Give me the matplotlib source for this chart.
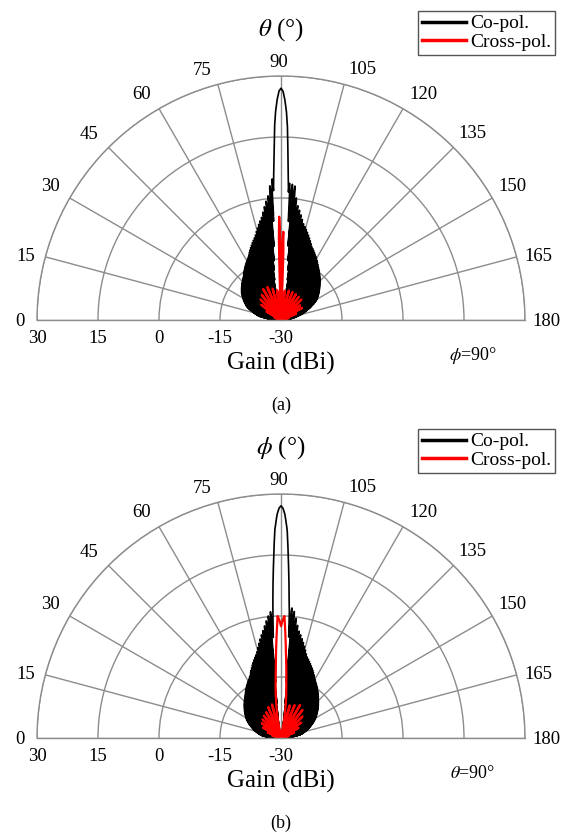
import numpy as np
import matplotlib
matplotlib.use("Agg")
import matplotlib.pyplot as plt
from matplotlib import transforms

plt.rcParams['font.family'] = ['Liberation Serif', 'DejaVu Serif']
plt.rcParams['mathtext.fontset'] = 'stix'

# angular ticks and radial (gain) ticks
theta_ticks = list(range(0, 181, 15))
gain_ticks = [-30, -15, 0, 15, 30]
gain_labels = ['-30', '-15', '0', '15', '30']

# lobe spacing (deg) and lobe sharpness of the fine structure
co_lobe_step = 1.2
x_lobe_step = 7.5
x_lobe_sharp = 6.0

# (a) phi = 90 cut
a_co_core_dt = [0, 0.5, 1.0, 1.5, 1.9, 2.5, 3.5, 5.0, 6.5, 8.2, 11, 15]
a_co_core_g = [27, 26.3, 24.2, 21.2, 17.6, 9.3, 0, -10.3, -15, -18.3, -24, -30]
a_co_env_t = [0, 9, 21, 34, 49, 62.7, 72.7, 79.4, 84.2, 86, 94, 95.9, 97.7,
              103, 112.7, 125, 136.7, 150.7, 163, 180]
a_co_env_g = [-30, -24.8, -21, -18.3, -15.9, -12.5, -8.5, -4.2, 0.9, 4.8, 3.6, 3.3, -1,
              -5.6, -10.4, -14, -16.8, -19.9, -24.3, -30]
a_x_core_t = [87.8, 88.5, 89.0, 89.5, 89.9, 90.0, 90.5, 91.0, 91.5, 92.0, 92.6]
a_x_core_g = [-30, -10, -4.6, -10, -25, -30, -25, -13, -8.3, -13, -30]
a_x_env_t = [0, 25, 32, 41, 50, 60.8, 68.2, 75, 82, 86, 94, 100, 110.7, 122, 136,
             145, 152.3, 160, 170, 180]
a_x_env_g = [-30, -28, -25, -23.1, -22.5, -21.1, -21.2, -22, -22.5, -23, -23, -22.5,
             -22.5, -22.7, -22.9, -24.5, -23.8, -27, -29, -30]

# (b) theta = 90 cut
b_co_core_dt = [0, 0.5, 1.0, 1.7, 2.45, 3.0, 3.7, 4.7, 5.7, 8, 12]
b_co_core_g = [27.1, 26.5, 25, 21.2, 13, 7.6, 0.8, -8, -18.9, -25, -30]
b_co_env_t = [0, 5.5, 28, 49, 63.3, 74, 80.7, 85, 86.5, 93.5, 95.4, 99.1, 107.5,
              120.3, 134.2, 151.7, 170, 180]
b_co_env_g = [-30, -25.6, -20.4, -16.5, -13, -8.3, -3, 1.1, 1.5, 2, 2.1, -3, -8.9,
              -13.4, -16.8, -20.5, -25, -30]
b_x_core_dt = [0, 0.8, 1.6, 2.5, 3.6, 5.0, 7.2, 10]
b_x_core_g = [-2.5, -1, 0, -5, -10.3, -15, -20, -26]
b_x_env_t = [0, 20, 32, 45, 61.5, 72.4, 80, 86, 94, 100, 113, 122, 136.8, 150, 165, 180]
b_x_env_g = [-30, -27, -24.4, -23.5, -22.6, -21.1, -22, -23, -23, -22, -21.2, -20.4,
             -22.8, -25, -28, -30]

# where each angle label sits relative to the rim (px, right / down)
label_dx = [-17, -20, -19, -19, -17, -16, -2, 18, 20, 19, 20, 22, 21]
label_dy = [0, -2, -13, -14, -16, -15, -15, -16, -16, -15, -13, -2, 0]

theta = np.linspace(0, 180, 18001)


def lobes(env_t, env_g, step, sharp=1.0):
    # fine lobe structure under an envelope, nulls clipped at the floor
    env = np.interp(theta, env_t, env_g)
    fine = 20 * sharp * np.log10(np.abs(np.cos(np.pi * (theta - 90) / step)) + 1e-6)
    return env + fine


def core_sym(dt, g):
    return np.interp(np.abs(theta - 90), dt, g, right=-30)


a_co = np.maximum(core_sym(a_co_core_dt, a_co_core_g),
                  lobes(a_co_env_t, a_co_env_g, co_lobe_step))
a_x = np.maximum(np.interp(theta, a_x_core_t, a_x_core_g, left=-30, right=-30),
                 lobes(a_x_env_t, a_x_env_g, x_lobe_step, x_lobe_sharp))
b_co = np.maximum(core_sym(b_co_core_dt, b_co_core_g),
                  lobes(b_co_env_t, b_co_env_g, co_lobe_step))
b_x = np.maximum(core_sym(b_x_core_dt, b_x_core_g),
                 lobes(b_x_env_t, b_x_env_g, x_lobe_step, x_lobe_sharp))

grid_c = '#8c8c8c'
W, H = 564, 833
R = 244
PT = 0.72  # points per pixel at 100 dpi
fig = plt.figure(figsize=(W / 100, H / 100), dpi=100)


def panel(base_y, co, xp, var, cut, tag):
    # the half disc sits in the lower half of a square box
    ax = fig.add_axes([37 / W, (H - base_y - R / 2) / H, 2 * R / W, 2 * R / H],
                      projection='polar')
    ax.set_thetamin(0)
    ax.set_thetamax(180)
    ax.set_theta_zero_location('W')
    ax.set_theta_direction(-1)
    ax.set_ylim(-30, 30)
    ax.set_thetagrids(theta_ticks, [''] * len(theta_ticks))
    ax.set_rticks(gain_ticks)
    ax.set_yticklabels([])
    ax.grid(True, color=grid_c, lw=1)
    for s in ax.spines.values():
        s.set_color(grid_c)
        s.set_linewidth(1)
    th = np.deg2rad(theta)
    l1, = ax.plot(th, np.clip(co, -30, None), color='black', lw=1.2, label='Co-pol.')
    l2, = ax.plot(th, np.clip(xp, -30, None), color='red', lw=1.6, label='Cross-pol.')

    for t, dx, dy in zip(theta_ticks, label_dx, label_dy):
        tr = transforms.offset_copy(ax.transData, fig=fig, x=dx * PT, y=-dy * PT - 1,
                                    units='points')
        ax.text(np.deg2rad(t), 30, str(t), transform=tr, ha='center', va='center',
                fontsize=13.5, clip_on=False)
    off = transforms.offset_copy(ax.transData, fig=fig, y=-7, units='points')
    for g, lab in zip(gain_ticks, gain_labels):
        ax.text(0, g, lab, transform=off, ha='center', va='top', fontsize=13.5,
                clip_on=False)

    top = base_y - 320
    fig.text(281 / W, 1 - (top + 30) / H, '$%s$ (°)' % var, ha='center', va='center', fontsize=18)
    fig.text(281 / W, 1 - (top + 363) / H, 'Gain (dBi)', ha='center', va='center', fontsize=18)
    fig.text(473 / W, 1 - (top + 356) / H, '$%s$=90°' % cut, ha='center', va='center', fontsize=13)
    fig.text(281 / W, 1 - (top + 405) / H, tag, ha='center', va='center', fontsize=13)
    leg = fig.legend([l1, l2], ['Co-pol.', 'Cross-pol.'], loc='upper right',
                     bbox_to_anchor=(555 / W, 1 - (top + 11) / H), fontsize=14,
                     handlelength=2.3, handletextpad=0.2, borderpad=0.2,
                     labelspacing=0.05, fancybox=False, framealpha=1,
                     edgecolor='#555555', borderaxespad=0)
    for ln in leg.get_lines():
        ln.set_linewidth(2.5)
    leg.get_frame().set_linewidth(1)
    return ax


panel(320, a_co, a_x, r'\theta', r'\phi', '(a)')
panel(738, b_co, b_x, r'\phi', r'\theta', '(b)')

fig.savefig('out.png', dpi=100)
